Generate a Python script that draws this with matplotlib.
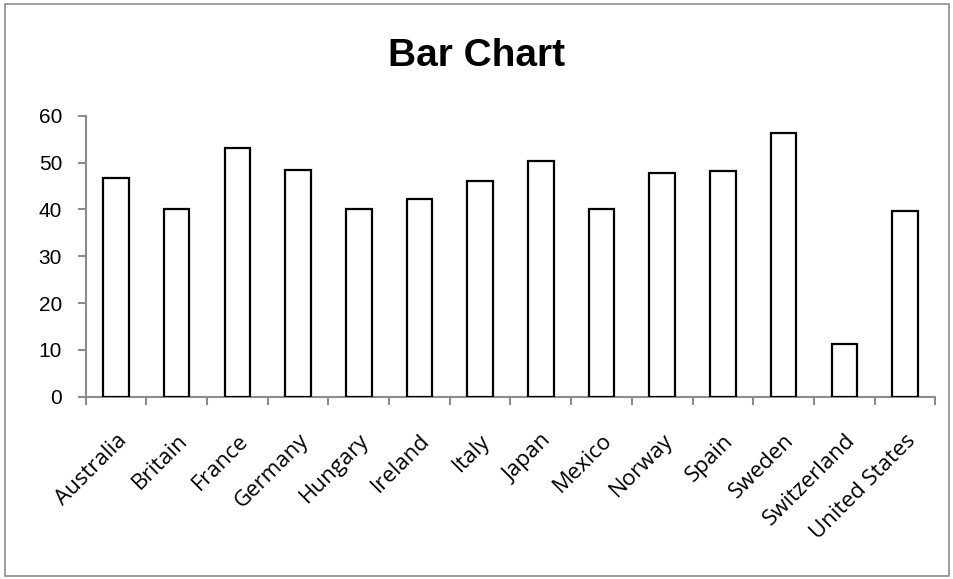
import matplotlib
matplotlib.use('Agg')
from matplotlib import pyplot as plt
from matplotlib.patches import Rectangle
from matplotlib.ticker import FixedLocator
import numpy as np

countries = ['Australia', 'Britain', 'France', 'Germany', 'Hungary', 'Ireland', 'Italy',
             'Japan', 'Mexico', 'Norway', 'Spain', 'Sweden', 'Switzerland', 'United States']
values = [46.8, 40.0, 53.2, 48.5, 40.0, 42.2, 46.1, 50.3, 40.0, 47.7, 48.1, 56.2, 11.3, 39.6]
yticks = [0, 10, 20, 30, 40, 50, 60]

W, H = 954, 579
fig = plt.figure(figsize=(W / 100, H / 100), dpi=100)

# grey frame around the chart area
fig.patches.append(Rectangle((5.5 / W, 3.5 / H), 944 / W, 572 / H, transform=fig.transFigure,
                             fill=False, edgecolor='#8c8c8c', linewidth=1.2))

ax = fig.add_axes([85.7 / W, (H - 396.7) / H, (935.3 - 85.7) / W, 281 / H])
x = np.arange(len(countries))
ax.bar(x, values, width=0.42, color='white', edgecolor='black', linewidth=1.6, zorder=3)

ax.set_xlim(-0.5, len(countries) - 0.5)
ax.set_ylim(0, 60)
ax.set_yticks(yticks)
ax.set_yticklabels([str(v) for v in yticks], fontsize=15, family='Liberation Sans')

ax.set_xticks(x)
ax.set_xticklabels(countries, rotation=45, ha='right', rotation_mode='anchor',
                   fontsize=16, family=['Open Sans', 'DejaVu Sans'])
ax.tick_params(axis='x', which='major', length=0, pad=24)
ax.xaxis.set_minor_locator(FixedLocator(np.arange(-0.5, len(countries), 1.0)))
ax.tick_params(axis='x', which='minor', length=6, width=1.5, color='#8c8c8c', direction='out')
ax.tick_params(axis='y', length=6, width=1.5, color='#8c8c8c', pad=11)

for s in ['top', 'right']:
    ax.spines[s].set_visible(False)
for s in ['left', 'bottom']:
    ax.spines[s].set_color('#8c8c8c')
    ax.spines[s].set_linewidth(1.5)

fig.text(0.5, 1 - 56 / H, 'Bar Chart', ha='center', va='center', fontsize=28,
         fontweight='bold', family=['Liberation Sans Narrow', 'Liberation Sans'])

fig.savefig('out.png', dpi=100)
